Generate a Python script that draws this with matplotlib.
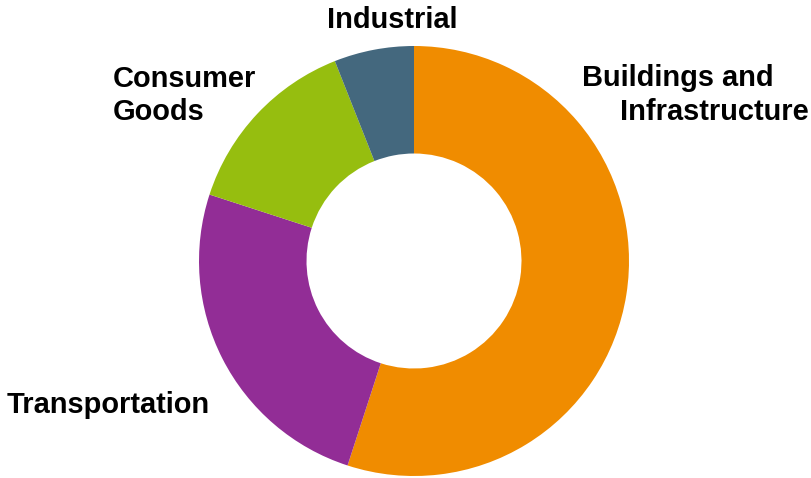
import matplotlib.pyplot as plt

# end-use sectors and their shares (%)
sectors = ['Buildings and\nInfrastructure', 'Transportation', 'Consumer Goods', 'Industrial']
shares = [55, 25, 14, 6]
colors = ['#F08C00', '#922D96', '#96BE0F', '#44687E']

W, H = 812, 478
fig = plt.figure(figsize=(W / 100, H / 100), dpi=100)
ax = fig.add_axes([199 / W, 2 / H, 430 / W, 430 / H])

ax.pie(shares, colors=colors, startangle=90, counterclock=False,
       radius=1.0, wedgeprops=dict(width=0.5, linewidth=0))
ax.set_xlim(-1, 1)
ax.set_ylim(-1, 1)
ax.set_aspect('equal')
ax.axis('off')

# labels placed around the ring (pixel coords: left x, baseline y)
font = dict(family=['Liberation Sans', 'DejaVu Sans'], fontsize=20.9,
            fontweight='bold', color='black', ha='left', va='baseline')
labels = [('Industrial', 327, 28),
          ('Consumer', 113, 87), ('Goods', 113, 119.5),
          ('Buildings and', 582, 86), ('Infrastructure', 620, 119.5),
          ('Transportation', 7, 413)]
for txt, x, y in labels:
    fig.text(x / W, 1 - y / H, txt, **font)

fig.savefig('out.png', dpi=100)
